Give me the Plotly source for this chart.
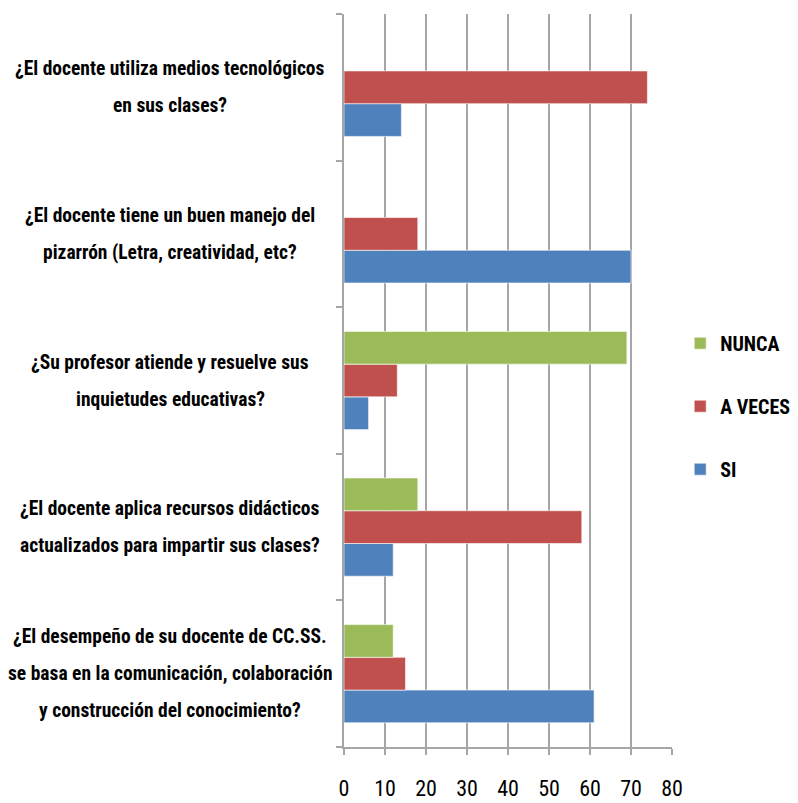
import plotly.graph_objects as go

# categories listed bottom -> top (plotly draws the first category at the bottom)
categories = [
    "¿El desempeño de su docente de CC.SS.<br>se basa en la comunicación, colaboración<br>y construcción del conocimiento?",
    "¿El docente aplica recursos didácticos<br>actualizados para impartir sus clases?",
    "¿Su profesor atiende y resuelve sus<br>inquietudes educativas?",
    "¿El docente tiene un buen manejo del<br>pizarrón (Letra, creatividad, etc?",
    "¿El docente utiliza medios tecnológicos<br>en sus clases?",
]
si = [61, 12, 6, 70, 14]
a_veces = [15, 58, 13, 18, 74]
nunca = [12, 18, 69, 0, 0]

x_ticks = [0, 10, 20, 30, 40, 50, 60, 70, 80]

FONT = "Roboto Condensed, Roboto, sans-serif"

series = [
    ("SI", si, "#4F81BD", 3),
    ("A VECES", a_veces, "#C0504D", 2),
    ("NUNCA", nunca, "#9BBB59", 1),
]

fig = go.Figure()
for name, vals, color, rank in series:
    fig.add_trace(go.Bar(
        y=categories, x=vals, name=name, orientation="h",
        legendgroup=name, legendrank=rank,
        marker=dict(color=color, line=dict(color="rgba(255,255,255,0.6)", width=1)),
    ))

# centred multi-line category labels, one annotation per line
line_gap = 37
for cat in categories:
    lines = cat.split("<br>")
    n = len(lines)
    for i, line in enumerate(lines):
        fig.add_annotation(
            x=-0.53, xref="paper", y=cat, yref="y",
            text=line, showarrow=False, xanchor="center", yanchor="middle",
            yshift=((n - 1) / 2 - i) * line_gap,
            font=dict(family=FONT, size=19.5, color="#000000", weight="bold"),
        )

# page body has an 8px margin, so the figure is 790x795 and offset by 8px
fig.update_layout(
    width=790, height=795,
    margin=dict(l=336, r=126, t=6, b=56, autoexpand=False),
    plot_bgcolor="white", paper_bgcolor="white",
    barmode="group", bargap=0.33, bargroupgap=0,
    showlegend=True,
    legend=dict(
        x=1.025, y=0.465, xanchor="left", yanchor="middle",
        traceorder="grouped", tracegroupgap=34,
        font=dict(family=FONT, size=20, color="#000000", weight="bold"),
        itemwidth=30,
    ),
    xaxis=dict(
        range=[0, 80], tickvals=x_ticks, showgrid=True, gridcolor="#A6A6A6", gridwidth=1.5,
        zeroline=False, showline=True, linecolor="#A6A6A6", linewidth=1.5,
        ticks="outside", ticklen=6, tickcolor="#A6A6A6", tickwidth=1.5,
        tickfont=dict(family=FONT, size=22, color="#000000"), ticklabelstandoff=15,
    ),
    yaxis=dict(
        showticklabels=False, showline=True, linecolor="#A6A6A6", linewidth=1.5,
        ticks="outside", ticklen=6, tickcolor="#A6A6A6", tickwidth=1.5,
        tickson="boundaries", showgrid=False,
    ),
)

fig.write_html("out.html")
